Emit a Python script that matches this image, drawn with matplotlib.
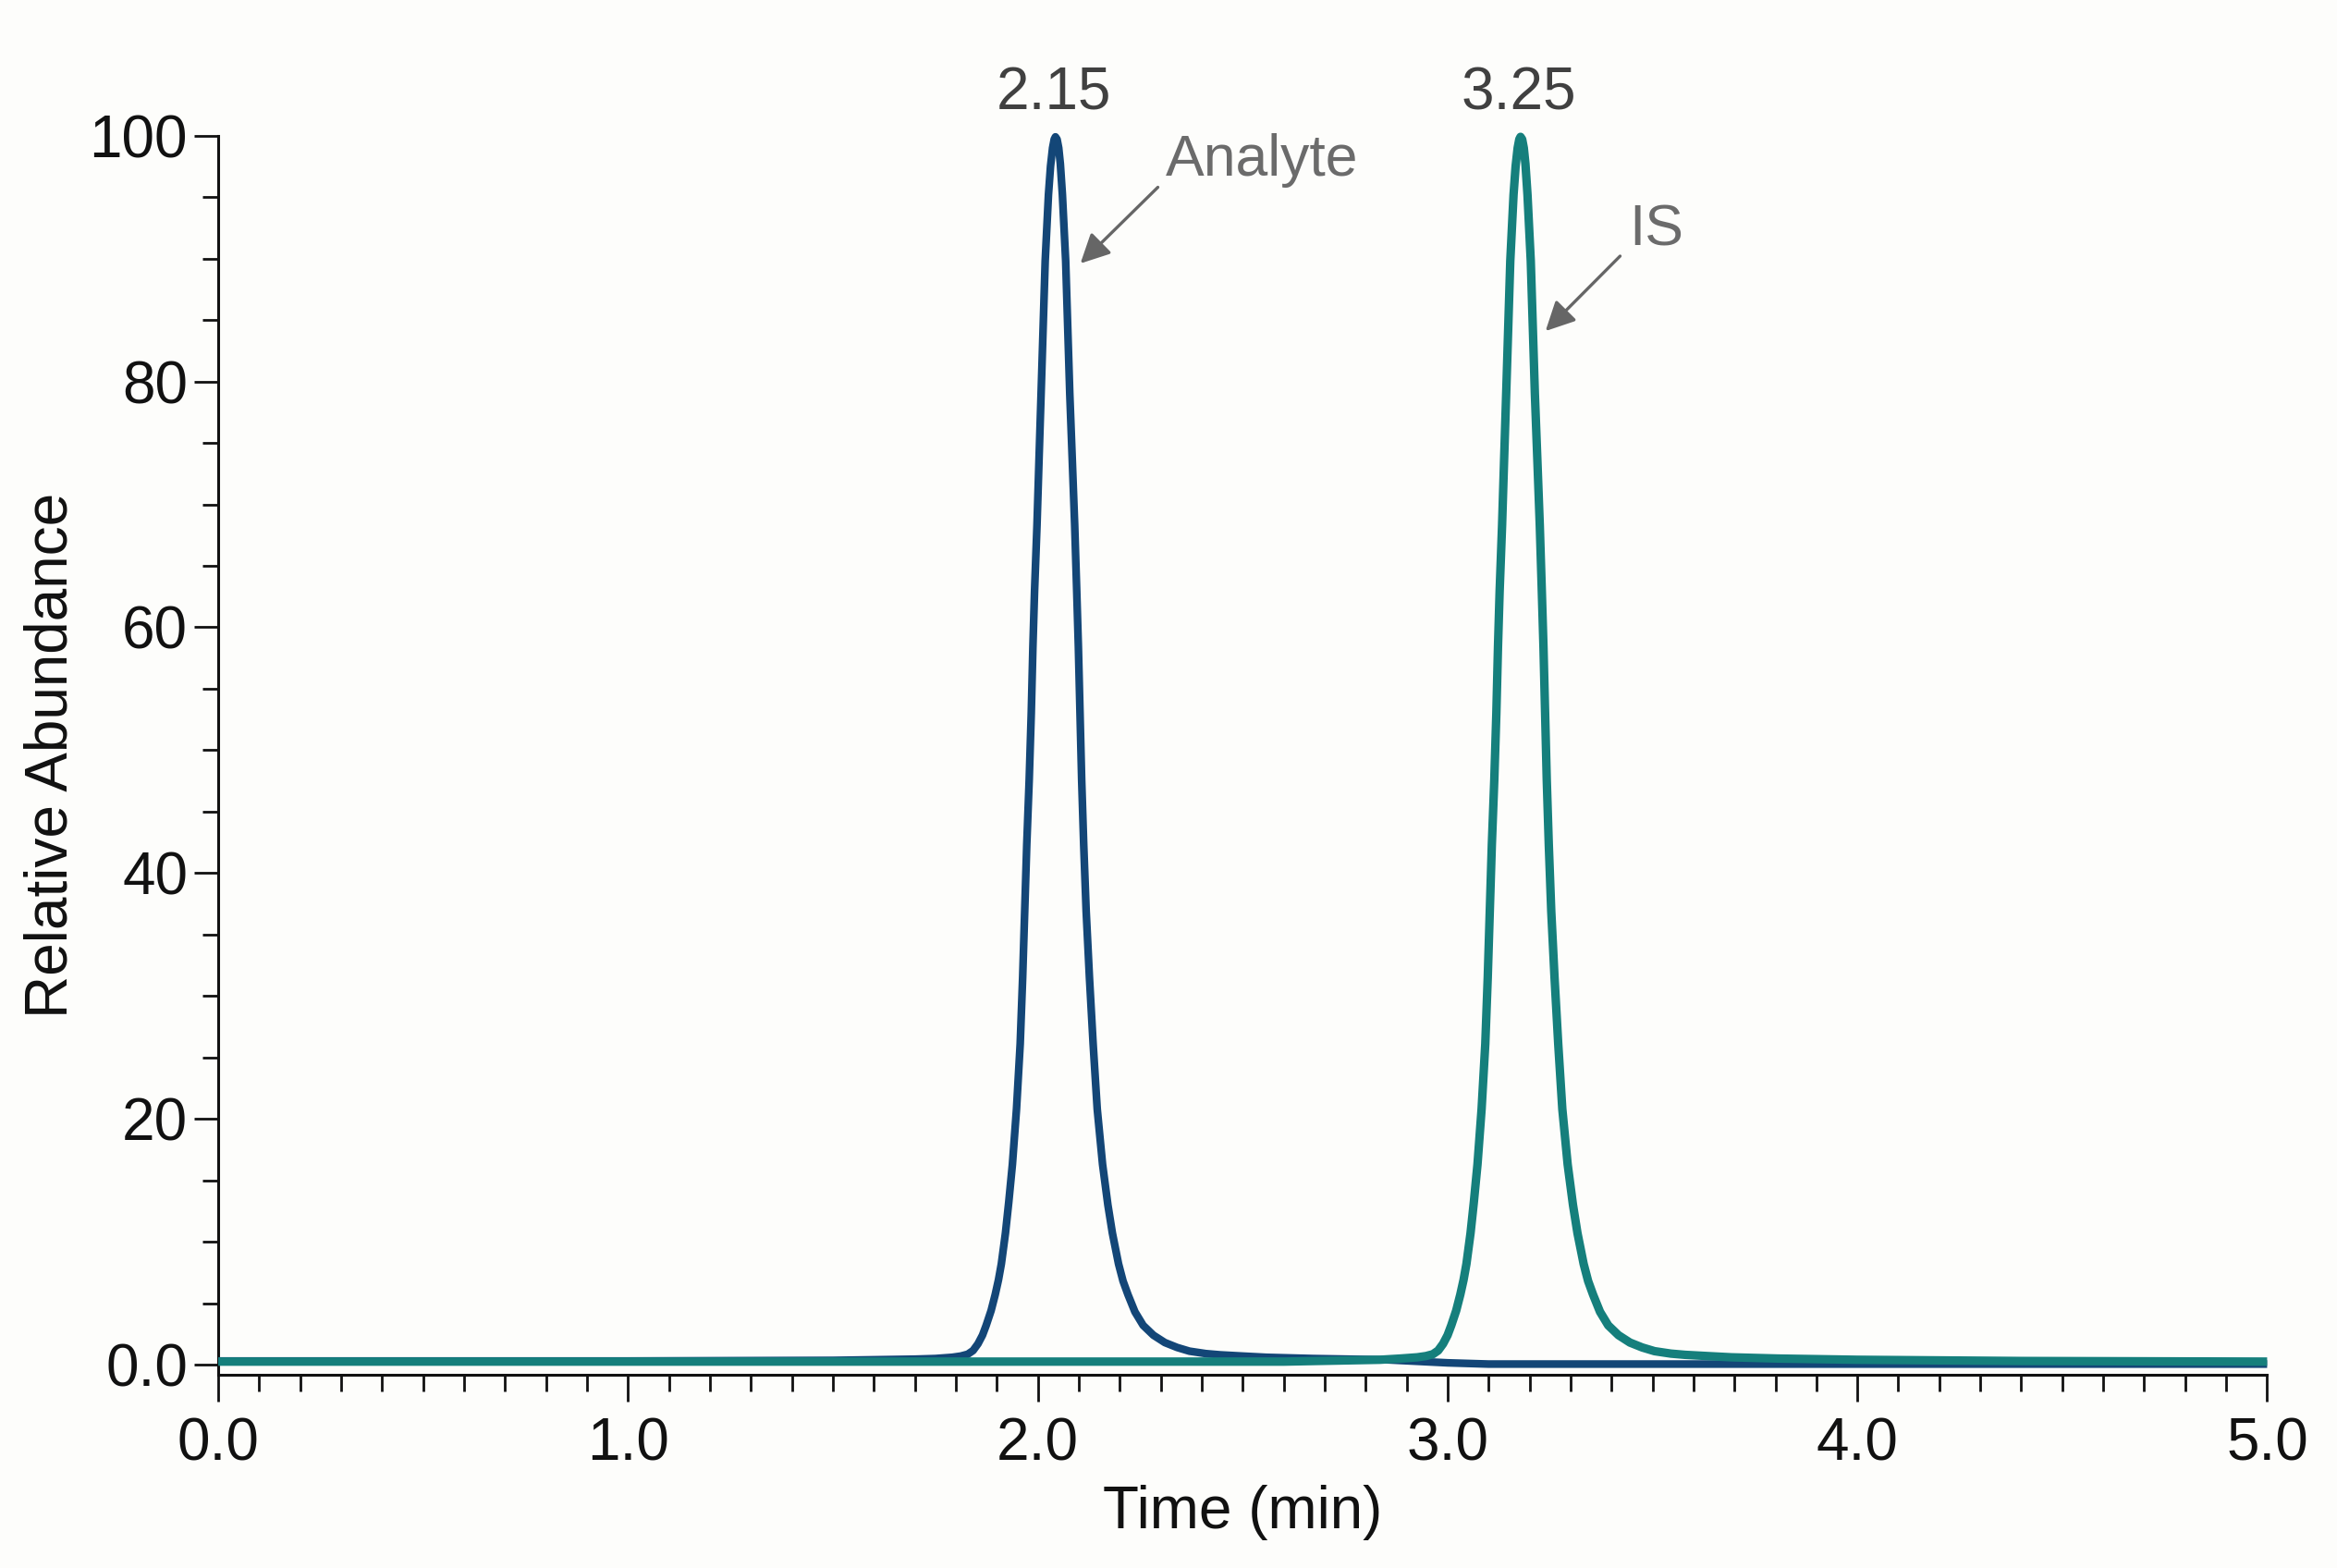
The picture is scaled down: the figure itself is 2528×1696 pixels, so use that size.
"""
Chromatogram of analyte and internal standard (IS), relative abundance vs time.
"""

import matplotlib
matplotlib.use("Agg")
import matplotlib.pyplot as plt
from matplotlib.ticker import MultipleLocator, FixedLocator, FuncFormatter

plt.rcParams['font.family'] = ['Liberation Sans', 'DejaVu Sans']

# values
analyte_time = [0.000, 1.000, 1.500, 1.700, 1.750, 1.791, 1.812, 1.829, 1.842, 1.854,
                1.865, 1.874, 1.886, 1.896, 1.904, 1.911, 1.921, 1.929, 1.938, 1.948,
                1.957, 1.963, 1.968, 1.973, 1.979, 1.984, 1.988, 1.992, 1.998, 2.003,
                2.008, 2.013, 2.018, 2.022, 2.026, 2.031, 2.036, 2.040, 2.043, 2.047,
                2.051, 2.055, 2.060, 2.064, 2.068, 2.073, 2.078, 2.084, 2.090, 2.095,
                2.099, 2.103, 2.107, 2.112, 2.118, 2.126, 2.135, 2.145, 2.158, 2.171,
                2.182, 2.197, 2.208, 2.220, 2.237, 2.257, 2.282, 2.310, 2.340, 2.370,
                2.410, 2.445, 2.500, 2.558, 2.671, 2.850, 3.000, 3.100, 5.000]
analyte_abund = [0.30, 0.30, 0.35, 0.45, 0.50, 0.60, 0.70, 0.85, 1.15, 1.7,
                 2.4, 3.2, 4.4, 5.7, 6.9, 8.2, 10.7, 13.2, 16.3, 20.8,
                 26.1, 31.5, 36.9, 42.3, 47.6, 53.0, 58.4, 62.9, 68.3, 73.7,
                 79.0, 84.4, 89.8, 92.5, 95.2, 97.5, 99.0, 99.7, 99.9, 99.7,
                 99.0, 97.7, 95.2, 92.5, 89.8, 84.4, 79.0, 73.7, 68.3, 62.9,
                 58.4, 53.0, 47.6, 42.3, 36.9, 31.5, 26.1, 20.8, 16.3, 13.0,
                 10.7, 8.2, 6.8, 5.7, 4.3, 3.2, 2.4, 1.8, 1.4, 1.1,
                 0.9, 0.8, 0.7, 0.6, 0.5, 0.4, 0.15, 0.05, 0.05]

is_time = [0.000, 1.000, 2.000, 2.600, 2.835, 2.885, 2.926, 2.947, 2.964, 2.977,
           2.989, 3.000, 3.009, 3.021, 3.031, 3.039, 3.046, 3.056, 3.064, 3.073,
           3.083, 3.092, 3.098, 3.103, 3.108, 3.114, 3.119, 3.123, 3.127, 3.133,
           3.138, 3.143, 3.148, 3.153, 3.157, 3.161, 3.166, 3.171, 3.175, 3.178,
           3.182, 3.186, 3.190, 3.195, 3.199, 3.203, 3.208, 3.213, 3.219, 3.225,
           3.230, 3.234, 3.238, 3.242, 3.247, 3.253, 3.261, 3.270, 3.280, 3.293,
           3.306, 3.317, 3.332, 3.343, 3.355, 3.372, 3.392, 3.417, 3.445, 3.475,
           3.505, 3.545, 3.580, 3.635, 3.693, 3.806, 4.000, 4.400, 5.000]
is_abund = [0.25, 0.25, 0.25, 0.25, 0.40, 0.50, 0.60, 0.70, 0.85, 1.15,
            1.7, 2.4, 3.2, 4.4, 5.7, 6.9, 8.2, 10.7, 13.2, 16.3,
            20.8, 26.1, 31.5, 36.9, 42.3, 47.6, 53.0, 58.4, 62.9, 68.3,
            73.7, 79.0, 84.4, 89.8, 92.5, 95.2, 97.5, 99.0, 99.7, 99.9,
            99.7, 99.0, 97.7, 95.2, 92.5, 89.8, 84.4, 79.0, 73.7, 68.3,
            62.9, 58.4, 53.0, 47.6, 42.3, 36.9, 31.5, 26.1, 20.8, 16.3,
            13.0, 10.7, 8.2, 6.8, 5.7, 4.3, 3.2, 2.4, 1.8, 1.4,
            1.1, 0.9, 0.8, 0.7, 0.6, 0.5, 0.4, 0.3, 0.25]

peak_labels = ["2.15", "3.25"]
peak_label_x = [2.040, 3.173]
peak_names = ["Analyte", "IS"]
name_x = [2.311, 3.442]
name_y = [98.0, 92.3]
arrow_tail = [(2.293, 95.8), (3.421, 90.2)]
arrow_head = [(2.104, 89.6), (3.239, 84.1)]

x_major = [0.0, 1.0, 2.0, 3.0, 4.0, 5.0]
y_major = [0, 20, 40, 60, 80, 100]

ANALYTE_COLOR = '#134677'
IS_COLOR = '#157f7c'
BG = '#fdfdfb'
INK = '#111111'

fig = plt.figure(figsize=(12.64, 8.48), dpi=200, facecolor=BG)
ax = fig.add_axes([0.0934, 0.1234, 0.8767, 0.7901], facecolor=BG)

ax.plot(analyte_time, analyte_abund, color=ANALYTE_COLOR, lw=3.0,
        solid_joinstyle='round', solid_capstyle='butt', clip_on=False, zorder=3)
ax.plot(is_time, is_abund, color=IS_COLOR, lw=3.3,
        solid_joinstyle='round', solid_capstyle='butt', clip_on=False, zorder=4)

ax.set_xlim(0, 5)
ax.set_ylim(-0.8, 100)

for s in ['top', 'right']:
    ax.spines[s].set_visible(False)
for s in ['left', 'bottom']:
    ax.spines[s].set_linewidth(1.1)
    ax.spines[s].set_color(INK)

ax.xaxis.set_major_locator(FixedLocator(x_major))
ax.xaxis.set_minor_locator(MultipleLocator(0.1))
ax.xaxis.set_major_formatter(FuncFormatter(lambda v, p: f"{v:.1f}"))
ax.yaxis.set_major_locator(FixedLocator(y_major))
ax.yaxis.set_minor_locator(MultipleLocator(5))
ax.yaxis.set_major_formatter(FuncFormatter(lambda v, p: "0.0" if v == 0 else f"{v:.0f}"))

ax.tick_params(axis='x', which='major', length=10.5, width=1.0, pad=6,
               labelsize=23, colors=INK)
ax.tick_params(axis='x', which='minor', length=6.3, width=1.0, colors=INK)
ax.tick_params(axis='y', which='major', length=9.4, width=1.0, pad=2.5,
               labelsize=23, colors=INK)
ax.tick_params(axis='y', which='minor', length=6.3, width=1.0, colors=INK)

ax.set_xlabel("Time (min)", fontsize=23, color=INK)
ax.xaxis.label.set_va('center')
ax.xaxis.set_label_coords(0.5, -0.1114)
ax.set_ylabel("Relative Abundance", fontsize=23, color=INK)
ax.yaxis.label.set_va('center')
ax.yaxis.set_label_coords(-0.0815, 0.5)

# retention time labels above the peaks
for lab, xx in zip(peak_labels, peak_label_x):
    ax.text(xx, 103.4, lab, ha='center', va='center', fontsize=23,
            color='#404040', clip_on=False)

# compound names with arrows
for name, xx, yy, tail, head in zip(peak_names, name_x, name_y, arrow_tail, arrow_head):
    ax.text(xx, yy, name, ha='left', va='center', fontsize=22.5, color='#6b6b6b')
    ax.annotate("", xy=head, xytext=tail,
                arrowprops=dict(arrowstyle='-|>', color='#666666', lw=1.2,
                                mutation_scale=24, shrinkA=0, shrinkB=0))

fig.savefig("out.png", dpi=200, facecolor=BG)
